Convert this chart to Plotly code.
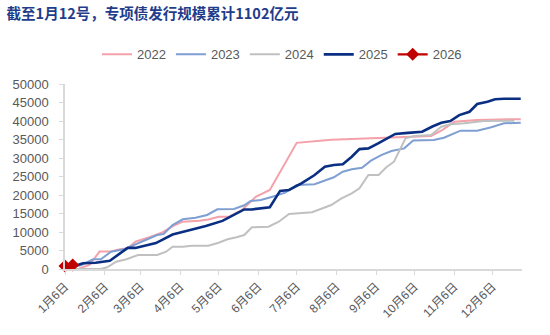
import plotly.graph_objects as go

# Cumulative special-bond issuance (100 million yuan), plotted on a common calendar
YEAR = "2025"

dates_2022 = ["01-06", "01-17", "01-25", "02-02", "02-10", "02-17", "02-24", "03-02", "03-13",
              "03-23", "04-02", "04-08", "04-21", "04-28", "05-06", "05-14", "05-24", "06-04",
              "06-15", "07-06", "08-02", "09-05", "09-26", "10-19", "10-28", "11-06", "11-24",
              "12-28"]
vals_2022 = [0, 100, 1080, 4700, 4700, 5300, 5600, 7400, 8600,
             9900, 11900, 12800, 13050, 13400, 14100, 14100, 15900, 19500,
             21350, 34100, 34900, 35300, 35600, 35950, 37600, 39800, 40300,
             40500]

dates_2023 = ["01-06", "01-19", "01-28", "02-03", "02-11", "02-21", "03-10", "03-19", "03-24",
              "03-31", "04-08", "04-18", "04-27", "05-05", "05-18", "05-26", "05-31", "06-08",
              "06-17", "06-27", "07-06", "07-20", "08-04", "08-11", "08-18", "08-26", "09-02",
              "09-10", "09-18", "09-28", "10-05", "10-21", "10-29", "11-11", "11-24", "12-05",
              "12-15", "12-28"]
vals_2023 = [0, 1080, 2620, 2620, 4680, 5320, 7840, 9190, 9460,
             11890, 13430, 13870, 14600, 16140, 16200, 17220, 18380, 18650,
             19540, 20620, 22700, 22900, 24790, 26300, 26950, 27380, 29270,
             30800, 31900, 32600, 34700, 34870, 35490, 37380, 37380, 38300,
             39380, 39550]

dates_2024 = ["01-06", "02-03", "02-08", "02-15", "02-23", "03-04", "03-19", "03-26", "03-31",
              "04-08", "04-15", "04-28", "05-06", "05-13", "05-20", "05-26", "06-01", "06-14",
              "06-22", "06-30", "07-18", "07-27", "08-02", "08-10", "08-18", "08-24", "08-31",
              "09-08", "09-14", "09-20", "09-29", "10-06", "10-19", "10-27", "11-03", "11-14",
              "11-29", "12-23"]
vals_2024 = [0, 0, 460, 1970, 2620, 3780, 3780, 4680, 6030,
             6030, 6300, 6300, 7110, 8030, 8570, 9190, 11270, 11430,
             12790, 14870, 15330, 16410, 17300, 19110, 20460, 21810, 25400,
             25400, 27490, 29000, 35330, 35950, 36220, 38460, 39110, 39380,
             40000, 40080]

dates_2025 = ["01-06", "01-20", "01-30", "02-10", "02-24", "03-02", "03-18", "03-31", "04-10",
              "04-26", "05-09", "05-18", "05-26", "06-01", "06-15", "06-23", "06-30", "07-10",
              "07-20", "07-28", "08-04", "08-11", "08-18", "08-24", "08-31", "09-08", "09-15",
              "09-21", "10-01", "10-12", "10-20", "10-27", "11-03", "11-10", "11-18", "11-24",
              "12-02", "12-08", "12-15", "12-28"]
vals_2025 = [0, 1540, 1700, 2240, 5700, 5700, 7000, 9300, 10200,
             11600, 13000, 14600, 16100, 16100, 16700, 21100, 21350, 23200,
             25400, 27650, 28100, 28300, 30350, 32400, 32600, 34000, 35300,
             36500, 36800, 37100, 38500, 39500, 40000, 41600, 42500, 44600,
             45200, 45900, 46000, 46000]

dates_2026 = ["01-06", "01-12"]
vals_2026 = [800, 1102]

tick_dates = ["01-06", "02-06", "03-06", "04-06", "05-06", "06-06",
              "07-06", "08-06", "09-06", "10-06", "11-06", "12-06"]
tick_labels = ["1月6日", "2月6日", "3月6日", "4月6日", "5月6日", "6月6日",
               "7月6日", "8月6日", "9月6日", "10月6日", "11月6日", "12月6日"]


def on_calendar(md_list):
    return [f"{YEAR}-{md}" for md in md_list]


FONT = "Liberation Sans, Arial, Noto Sans CJK SC, sans-serif"
GRAY_TEXT = "#595959"

fig = go.Figure()
series = [
    ("2022", dates_2022, vals_2022, "#F4A1AA", 2),
    ("2023", dates_2023, vals_2023, "#7F9FD3", 2),
    ("2024", dates_2024, vals_2024, "#C0C0C0", 2),
    ("2025", dates_2025, vals_2025, "#0A2F82", 2.6),
]
for name, d, v, color, w in series:
    fig.add_trace(go.Scatter(x=on_calendar(d), y=v, name=name, mode="lines",
                             line=dict(color=color, width=w)))

fig.add_trace(go.Scatter(x=on_calendar(dates_2026), y=vals_2026, name="2026",
                         mode="lines+markers", cliponaxis=False,
                         line=dict(color="#C00000", width=2.2),
                         marker=dict(symbol="diamond", size=10, color="#C00000")))

fig.update_layout(
    width=550, height=335,
    margin=dict(l=62, r=28, t=84, b=66),
    paper_bgcolor="white", plot_bgcolor="white",
    font=dict(family=FONT, size=13, color=GRAY_TEXT),
    title=dict(text="<b>截至1月12号，专项债发行规模累计1102亿元</b>",
               x=0.012, xanchor="left", y=0.958, yanchor="middle",
               font=dict(family="Noto Sans CJK SC, sans-serif", size=14.5, color="#1F3D8A")),
    legend=dict(orientation="h", x=0.07, xanchor="left", y=1.16, yanchor="middle",
                font=dict(size=13, color=GRAY_TEXT), itemwidth=30,
                tracegroupgap=0, bgcolor="rgba(0,0,0,0)"),
    showlegend=True,
)

fig.update_xaxes(
    type="date",
    range=[f"{YEAR}-01-06", f"{YEAR}-12-29"],
    tickvals=on_calendar(tick_dates), ticktext=tick_labels,
    tickangle=-45, tickfont=dict(size=12, color=GRAY_TEXT),
    showgrid=False, showline=True, linecolor="#D9D9D9", linewidth=1.5,
    ticks="outside", ticklen=4, tickcolor="#D9D9D9", zeroline=False,
)
fig.update_yaxes(
    range=[0, 50000], dtick=5000, tickformat="d",
    tickfont=dict(size=13, color=GRAY_TEXT), ticklabelstandoff=8,
    showgrid=False, showline=True, linecolor="#D9D9D9", linewidth=1.5,
    ticks="outside", ticklen=4, tickcolor="#D9D9D9", zeroline=False,
)

fig.write_html("out.html")
